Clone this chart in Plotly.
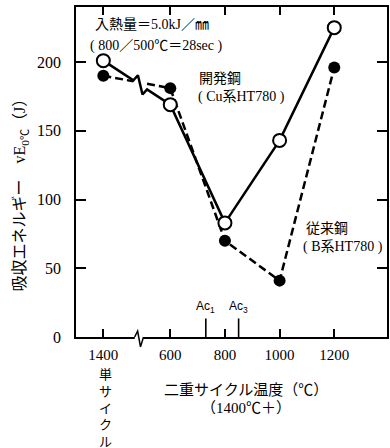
import plotly.graph_objects as go

# ---- data ----
temps = ["1400", "600", "800", "1000", "1200"]          # tick labels
x_pos = [355, 600, 800, 1000, 1200]                      # axis positions (single cycle drawn left of break)
dev_steel = [201, 169, 83, 143, 225]                     # 開発鋼 (Cu系HT780), open circles
conv_steel = [190, 181, 70, 41, 196]                     # 従来鋼 (B系HT780), filled circles
ac_temps = [730, 850]
ac_labels = ["Ac<sub>1</sub>", "Ac<sub>3</sub>"]
y_ticks = [0, 50, 100, 150, 200]

# ---- style ----
FONT = "Liberation Serif, Noto Sans CJK JP, serif"
XR = [255, 1393]
YR = [0, 240]
xb, d, h = 490, 25, 7   # line-break position / half width / zig height


def interp(x, x0, y0, x1, y1):
    return y0 + (x - x0) * (y1 - y0) / (x1 - x0)


# solid line with zigzag break between single cycle and 600
y_a = interp(xb - d, x_pos[0], dev_steel[0], x_pos[1], dev_steel[1])
y_m = interp(xb, x_pos[0], dev_steel[0], x_pos[1], dev_steel[1])
y_b = interp(xb + d, x_pos[0], dev_steel[0], x_pos[1], dev_steel[1])
sx = [x_pos[0], xb - d, xb - d / 3, xb + d / 3, xb + d] + x_pos[1:]
sy = [dev_steel[0], y_a, y_m + h, y_m - h, y_b] + dev_steel[1:]

# dashed line with gap
c_a = interp(xb - d, x_pos[0], conv_steel[0], x_pos[1], conv_steel[1])
c_b = interp(xb + d, x_pos[0], conv_steel[0], x_pos[1], conv_steel[1])
dx = [x_pos[0], xb - d, None, xb + d] + x_pos[1:]
dy = [conv_steel[0], c_a, None, c_b] + conv_steel[1:]

fig = go.Figure()
fig.add_trace(go.Scatter(x=dx, y=dy, mode="lines",
                         line=dict(color="black", width=2.5, dash="8px,4px"),
                         hoverinfo="skip", showlegend=False))
fig.add_trace(go.Scatter(x=sx, y=sy, mode="lines",
                         line=dict(color="black", width=2.5),
                         hoverinfo="skip", showlegend=False))
fig.add_trace(go.Scatter(x=x_pos, y=conv_steel, mode="markers",
                         marker=dict(symbol="circle", size=12, color="black"),
                         showlegend=False, cliponaxis=False))
fig.add_trace(go.Scatter(x=x_pos, y=dev_steel, mode="markers",
                         marker=dict(symbol="circle", size=13, color="white",
                                     line=dict(color="black", width=2)),
                         showlegend=False, cliponaxis=False))

shapes = []
# axis break on the x axis
shapes.append(dict(type="rect", xref="x", yref="paper", x0=470, x1=501, y0=-0.012, y1=0.012,
                   fillcolor="white", line=dict(width=0), layer="above"))
shapes.append(dict(type="path", xref="x", yref="paper",
                   path="M 469.5,0 L 480.5,0.018 L 491,-0.03 L 502,0",
                   line=dict(color="black", width=1.5), layer="above"))
# Ac1 / Ac3 tall ticks
for a in ac_temps:
    shapes.append(dict(type="line", xref="x", yref="y", x0=a, x1=a, y0=0, y1=13.5,
                       line=dict(color="black", width=1.6)))

annotations = []
for a, lab in zip(ac_temps, ac_labels):
    annotations.append(dict(x=a, y=22, xref="x", yref="y", text=lab, showarrow=False,
                            yanchor="middle",
                            font=dict(family="Liberation Sans, Arial, sans-serif", size=12, color="black")))

txt = dict(showarrow=False, xanchor="left", yanchor="middle",
           font=dict(family=FONT, size=14, color="black"))
annotations += [
    dict(x=317, y=227, xref="x", yref="y", text="入熱量＝5.0kJ／㎜", **txt),
    dict(x=299, y=212, xref="x", yref="y", text="( 800／500℃＝28sec )", **txt),
    dict(x=699, y=188, xref="x", yref="y", text="開発鋼", **txt),
    dict(x=695, y=174.5, xref="x", yref="y", text="( Cu系HT780 )", **txt),
    dict(x=1088, y=79, xref="x", yref="y", text="従来鋼", **txt),
    dict(x=1077, y=65.5, xref="x", yref="y", text="( B系HT780 )", **txt),
    dict(x=877, y=-0.1606, xref="x", yref="paper", text="二重サイクル温度（℃）", showarrow=False,
         yanchor="middle", font=dict(family=FONT, size=15, color="black")),
    dict(x=877, y=-0.215, xref="x", yref="paper", text="（1400℃＋）", showarrow=False,
         yanchor="middle", font=dict(family=FONT, size=15, color="black")),
    dict(x=-0.179, y=0.442, xref="paper", yref="paper", textangle=-90,
         xanchor="center", yanchor="middle",
         text="吸収エネルギー　vE<sub>0℃</sub>（J）", showarrow=False,
         font=dict(family=FONT, size=16, color="black")),
]
# 単サイクル written vertically, one character per line
for ch, yp in zip("単サイクル", [-0.114, -0.165, -0.216, -0.265, -0.316]):
    annotations.append(dict(x=364, y=yp, xref="x", yref="paper", text=ch, showarrow=False,
                            yanchor="middle",
                            font=dict(family=FONT, size=13, color="black")))

fig.update_layout(
    width=390, height=448,
    margin=dict(l=76, r=1, t=7, b=111),
    paper_bgcolor="white", plot_bgcolor="white",
    shapes=shapes, annotations=annotations,
    xaxis=dict(range=XR, tickvals=x_pos, ticktext=temps, ticks="inside", ticklen=8,
               tickwidth=1.5, tickcolor="black", showline=True, linecolor="black",
               linewidth=1.6, mirror="ticks", showgrid=False, zeroline=False,
               ticklabelstandoff=3, tickfont=dict(family=FONT, size=15, color="black")),
    yaxis=dict(range=YR, tickvals=y_ticks, ticks="inside", ticklen=10,
               tickwidth=1.5, tickcolor="black", showline=True, linecolor="black",
               linewidth=1.6, mirror="ticks", showgrid=False, zeroline=False,
               ticklabelstandoff=10, tickfont=dict(family=FONT, size=16, color="black")),
)

fig.write_html("out.html", config={"displayModeBar": False},
               post_script="document.body.style.margin='0px';")
